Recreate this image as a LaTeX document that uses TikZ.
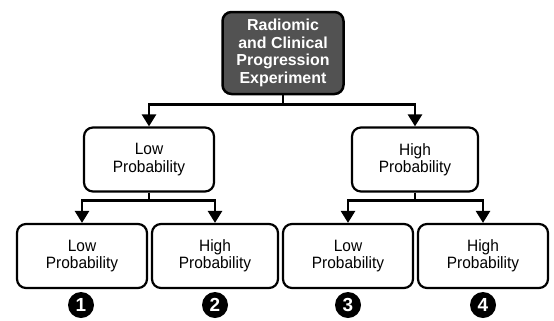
\documentclass[tikz,border=0pt]{standalone}
\usepackage{fontspec}
\setmainfont{Liberation Sans}
\newfontfamily\boxfont[FakeStretch=0.94]{Liberation Sans}
\usetikzlibrary{arrows.meta}

\tikzset{
  rootbox/.style={draw=black, line width=2.5bp, rounded corners=9bp, fill=black!68,
    text=white, font=\fontsize{16}{17.5}\selectfont\bfseries, align=center,
    minimum width=121bp, minimum height=82bp, inner sep=2bp},
  probbox/.style={draw=black, line width=2.2bp, rounded corners=9bp, fill=white,
    font=\boxfont\fontsize{16.5}{17.5}\selectfont, align=center,
    minimum height=64bp, inner sep=2bp},
  numdot/.style={circle, fill=black, text=white, minimum size=26bp, inner sep=0pt,
    font=\fontsize{19}{19}\selectfont\bfseries},
  branch/.style={line width=2.6bp, -{Triangle[width=14bp,length=12bp]}}
}

\begin{document}
\begin{tikzpicture}[x=1bp, y=-1bp]
  \useasboundingbox (0,0) rectangle (554,320);

  % Root
  \node[rootbox] (root) at (283,53) {Radiomic\\and Clinical\\Progression\\Experiment};

  % First split
  \node[probbox, minimum width=130bp] (lo) at (149,159.5) {Low\\Probability};
  \node[probbox, minimum width=126bp] (hi) at (415,159.5) {High\\Probability};

  % Second split
  \node[probbox, minimum width=130bp] (lolo) at (82,256) {Low\\Probability};
  \node[probbox, minimum width=126bp] (lohi) at (215,256) {High\\Probability};
  \node[probbox, minimum width=130bp] (hilo) at (348,256) {Low\\Probability};
  \node[probbox, minimum width=130bp] (hihi) at (483,256) {High\\Probability};

  % Outcome numbers
  \node[numdot] (n1) at (81,305) {1};
  \node[numdot] (n2) at (215,305) {2};
  \node[numdot] (n3) at (348,305) {3};
  \node[numdot] (n4) at (483,305) {4};

  % Connectors
  \draw[branch] (root.south) -- ++(0,9) -| (lo.north);
  \draw[branch] (root.south) -- ++(0,9) -| (hi.north);
  \draw[branch] (lo.south) -- ++(0,8) -| (lolo.north);
  \draw[branch] (lo.south) -- ++(0,8) -| (lohi.north);
  \draw[branch] (hi.south) -- ++(0,8) -| (hilo.north);
  \draw[branch] (hi.south) -- ++(0,8) -| (hihi.north);
\end{tikzpicture}
\end{document}
